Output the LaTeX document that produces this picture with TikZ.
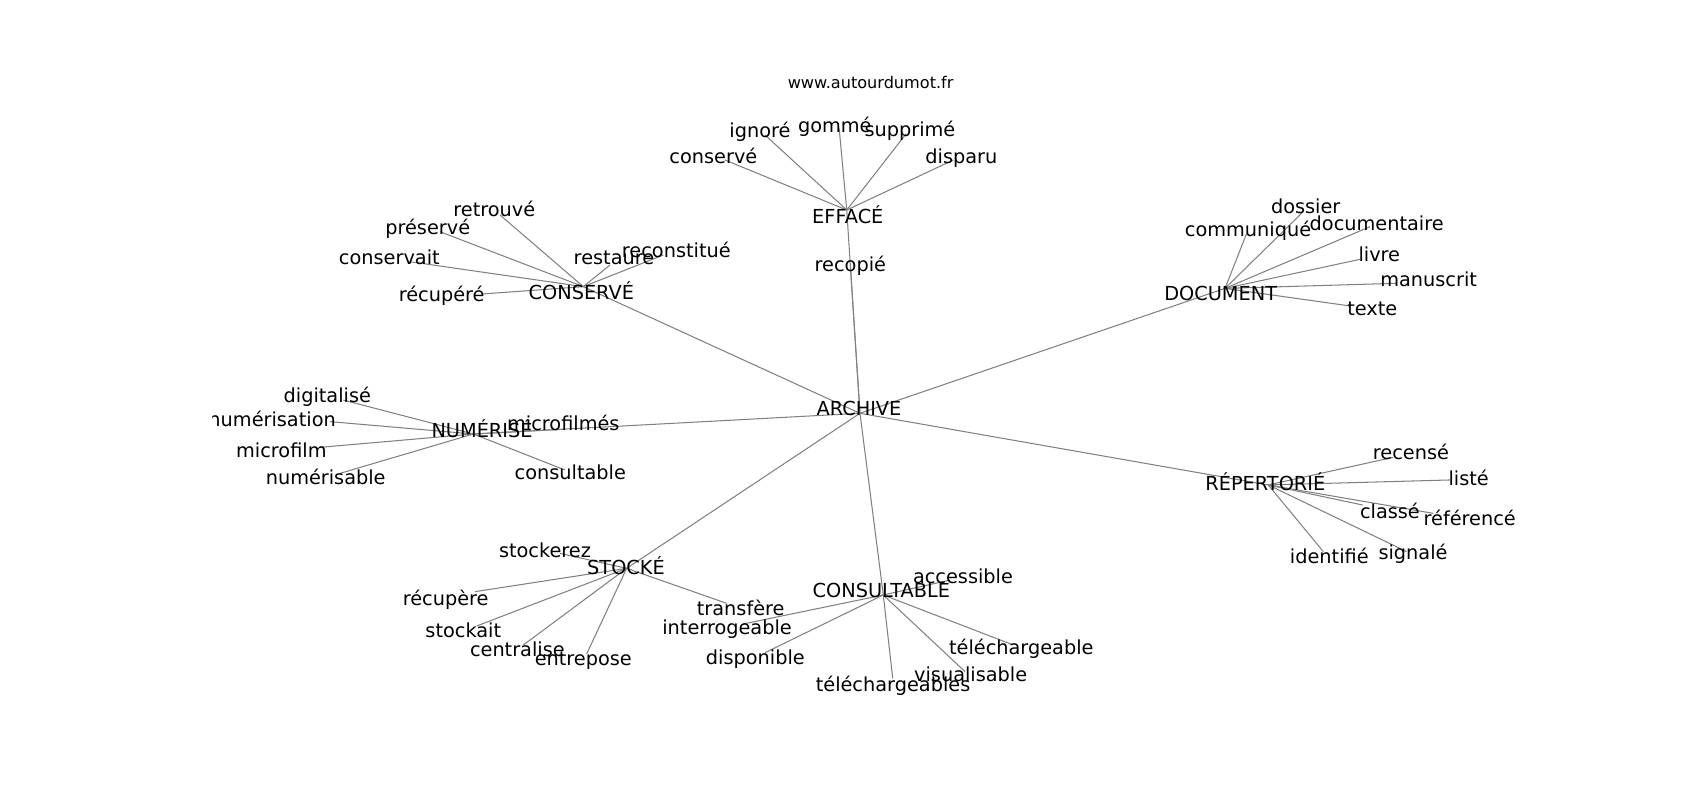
\documentclass[tikz,border=0pt]{standalone}
\usepackage{fontspec}
\setmainfont{DejaVu Sans}
\begin{document}
\begin{tikzpicture}[x=0.78063pt,y=-0.78063pt,
  lbl/.style={font=\fontsize{13.9}{16}\selectfont, inner sep=0pt, text height=0.7em, text depth=0pt, anchor=center, yshift=-2pt},
  ttl/.style={font=\fontsize{11.6}{14}\selectfont, inner sep=0pt, text height=0.7em, text depth=0pt, anchor=center, yshift=-0.8pt},
  edge/.style={draw=black!50, line width=0.75pt}]
\useasboundingbox (0,0) rectangle (1568,737.9);
\node[ttl] (title) at (803,76.3) {www.autourdumot.fr};
\def\words{%
ARCHIVE/792.3/376.3/793.2/381.2/ARCHIVE,
EFFACE/782/199.2/781/193.7/EFFACÉ,
recopie/784.3/243.5/784.5/248/recopié,
conserveE/658/143.6/668.7/147.6/conservé,
ignore/701/120/705.6/124.5/ignoré,
gomme/770/115.3/774/118.4/gommé,
supprime/839.3/119/835.6/123.6/supprimé,
disparu/886.7/143.6/879.3/147.6/disparu,
CONSERVE/536.2/269/538/264.4/CONSERVÉ,
retrouve/455.9/193.1/461.2/198.3/retrouvé,
preserve/394.5/209.1/405.8/213.7/préservé,
conservait/359.1/236.7/378.2/241.4/conservait,
recupere/407.4/271.2/444.3/271.2/récupéré,
restaure/566.3/237.3/562.6/244.4/restaure,
reconstitue/623.8/230/611.8/235.2/reconstitué,
DOCUMENT/1125.9/270/1129.9/266/DOCUMENT,
dossier/1204.3/190/1202.1/195.2/dossier,
communique/1151.1/211.5/1149.9/215.2/communiqué,
documentaire/1269.8/205.4/1263.6/209.1/documentaire,
livre/1272.2/233.7/1254.4/239.2/livre,
manuscrit/1317.7/257.6/1288.2/261.3/manuscrit,
texte/1265.8/283.5/1245.2/282.2/texte,
NUMERISE/444.6/396.6/436.6/400.3/NUMÉRISÉ,
digitalise/301.9/364.3/316.7/369/digitalisé,
numerisation/251/385.9/304.4/388.9/numérisation,
microfilm/259.5/415/295.2/412.6/microfilm,
numerisable/300.4/439.7/313.6/436.6/numérisable,
microfilmes/519.6/389.9/519.6/395.9/microfilmés,
consultable/526/435/521.1/433.5/consultable,
REPERTORIE/1167.1/445.2/1169.8/447.3/RÉPERTORIÉ,
recense/1301.4/416.6/1285.1/421.8/recensé,
liste/1354.6/441.2/1337.4/442.7/listé,
classe/1282/471/1256.8/465.8/classé,
reference/1355.6/478.1/1322/473.5/référencé,
signale/1303.3/509.4/1297.4/508.8/signalé,
identifie/1226.1/512.8/1220.6/508.8/identifié,
STOCKE/577.4/522.7/578/524.2/STOCKÉ,
stockerez/502.7/507.3/516.5/510.4/stockerez,
recuperev/411.1/551/438.1/545.7/récupère,
stockait/427.3/580.5/439.7/577.4/stockait,
centralise/477.2/598.9/482.7/594.9/centralise,
entrepose/538/607.2/541.1/603.2/entrepose,
transfere/683.2/561.1/670.3/556.5/transfère,
CONSULTABLE/812.9/543.6/814.7/548.8/CONSULTABLE,
interrogeable/670.6/578.6/685.6/575.5/interrogeable,
disponible/696.7/606.3/705.6/602/disponible,
accessible/888.2/531.3/876.2/535/accessible,
telechargeable/942/596.5/934.6/594.9/téléchargeable,
visualisable/895.3/621.7/890.1/619.5/visualisable,
telechargeables/823.7/630.3/823.4/625.6/téléchargeables}
\begin{scope}
\clip (196,88.5) rectangle (1411.2,656.7);
\foreach \n/\lx/\ly/\px/\py/\t in \words {\coordinate (\n) at (\px,\py);}
\foreach \a/\b in {ARCHIVE/EFFACE, ARCHIVE/recopie, ARCHIVE/CONSERVE, ARCHIVE/DOCUMENT,
  ARCHIVE/NUMERISE, ARCHIVE/REPERTORIE, ARCHIVE/STOCKE, ARCHIVE/CONSULTABLE,
  EFFACE/conserveE, EFFACE/ignore, EFFACE/gomme, EFFACE/supprime, EFFACE/disparu,
  CONSERVE/retrouve, CONSERVE/preserve, CONSERVE/conservait, CONSERVE/recupere, CONSERVE/restaure, CONSERVE/reconstitue,
  DOCUMENT/dossier, DOCUMENT/communique, DOCUMENT/documentaire, DOCUMENT/livre, DOCUMENT/manuscrit, DOCUMENT/texte,
  NUMERISE/digitalise, NUMERISE/numerisation, NUMERISE/microfilm, NUMERISE/numerisable, NUMERISE/microfilmes, NUMERISE/consultable,
  REPERTORIE/recense, REPERTORIE/liste, REPERTORIE/classe, REPERTORIE/reference, REPERTORIE/signale, REPERTORIE/identifie,
  STOCKE/stockerez, STOCKE/recuperev, STOCKE/stockait, STOCKE/centralise, STOCKE/entrepose, STOCKE/transfere,
  CONSULTABLE/interrogeable, CONSULTABLE/disponible, CONSULTABLE/accessible, CONSULTABLE/telechargeable, CONSULTABLE/visualisable, CONSULTABLE/telechargeables}
  {\draw[edge] (\a) -- (\b);}
\foreach \n/\lx/\ly/\px/\py/\t in \words {\node[lbl] (\n-t) at (\lx,\ly) {\t};}
\end{scope}
\end{tikzpicture}
\end{document}
